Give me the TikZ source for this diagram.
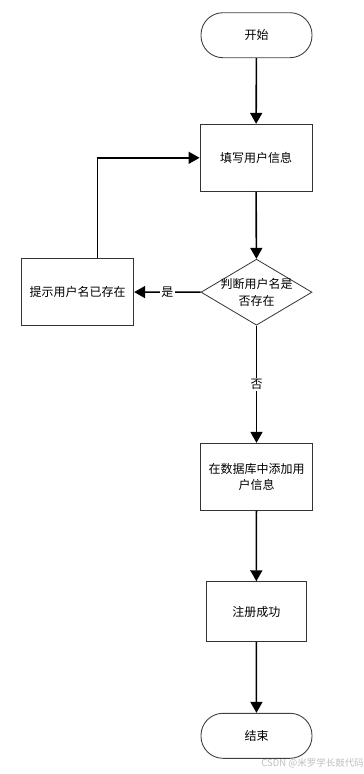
\documentclass[tikz,border=0pt]{standalone}
\usepackage{fontspec}
\setmainfont{Noto Sans CJK SC}
\usetikzlibrary{shapes.geometric,arrows.meta}
\begin{document}
\begin{tikzpicture}[x=1pt,y=1pt,
  every node/.style={font=\fontsize{12}{16.5}\selectfont},
  term/.style={draw=black!75,line width=0.9pt,rounded corners=22pt,minimum width=111pt,minimum height=45pt,inner sep=0pt},
  procbox/.style={draw=black!80,line width=0.9pt,minimum width=112pt,minimum height=67pt,inner sep=0pt,align=center},
  dia/.style={draw=black!80,line width=0.8pt,diamond,minimum width=111pt,minimum height=66pt,inner sep=0pt},
  conn/.style={line width=1.6pt,-{Triangle[length=11pt,width=12pt]}},
  lbl/.style={fill=white,inner sep=1.5pt}]
\useasboundingbox (0,0) rectangle (364,-774);
\node[term] (start) at (256.5,-35.2) {开始};
\node[procbox] (fill) at (256,-157.8) {填写用户信息};
\node[dia, label={[align=center,font=\fontsize{12}{17.5}\selectfont]center:判断用户名是\\否存在}] (check) at (256.5,-292.2) {};
\node[procbox] (exists) at (77.7,-292) {提示用户名已存在};
\node[procbox] (add) at (256.5,-476.8) {在数据库中添加用\\户信息};
\node[procbox,minimum width=100.7pt,minimum height=60pt] (ok) at (256.3,-611.7) {注册成功};
\node[term] (end) at (256.5,-735.8) {结束};
\node[text=black!25,font=\fontsize{9.5}{11}\selectfont,anchor=east,inner sep=0pt] (wm) at (364,-763) {CSDN @米罗学长敲代码};
\draw[conn] (start) -- (fill);
\draw[conn] (fill) -- (check);
\draw[conn] (check) -- node[lbl] {是} (exists);
\draw[conn] ([xshift=19.6pt]exists.north) |- (fill.west);
\draw[conn] (check) -- node[lbl] {否} (add);
\draw[conn] (add) -- (ok);
\draw[conn] (ok) -- (end);
\end{tikzpicture}
\end{document}
